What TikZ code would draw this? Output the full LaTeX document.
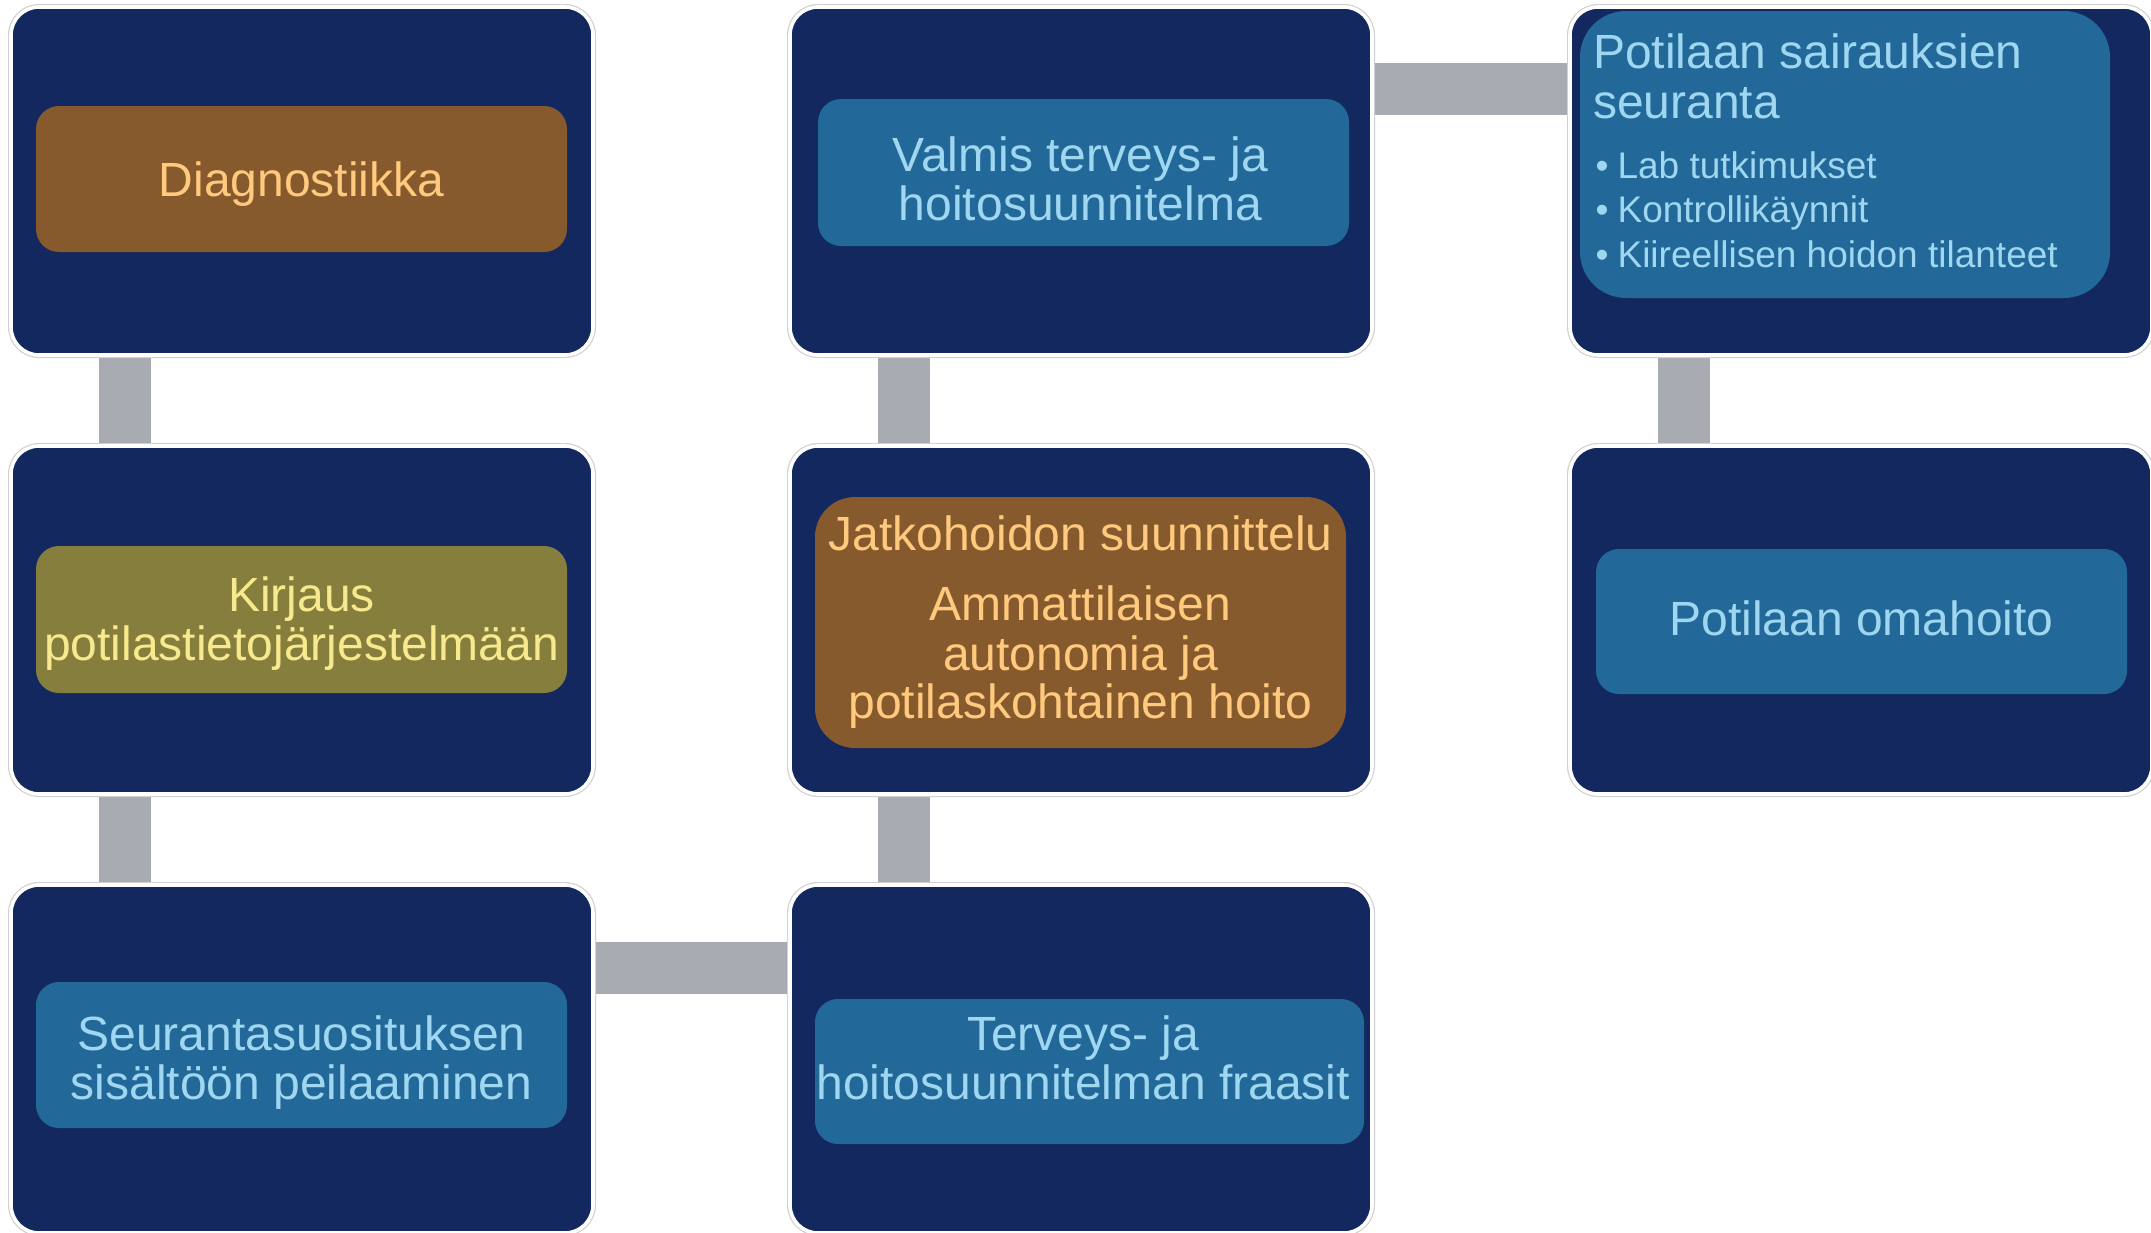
\documentclass[tikz,border=0pt]{standalone}
\usepackage{fontspec}
\setmainfont{Liberation Sans}
\usetikzlibrary{calc,backgrounds}
\definecolor{navy}{RGB}{18,40,94}
\definecolor{brownbox}{RGB}{135,90,45}
\definecolor{browntext}{RGB}{255,201,126}
\definecolor{bluebox}{RGB}{34,105,154}
\definecolor{bluetext}{RGB}{160,215,240}
\definecolor{olivebox}{RGB}{134,126,60}
\definecolor{olivetext}{RGB}{247,233,141}
\definecolor{conngray}{RGB}{169,171,179}
\begin{document}
\begin{tikzpicture}[x=1pt,y=-1pt,
  outer/.style={rectangle, rounded corners=14pt, fill=navy,
    preaction={draw=black!18, line width=3pt},
    draw=white, line width=1.8pt, minimum width=291pt, minimum height=174pt, inner sep=0pt},
  inner/.style={rectangle, inner sep=0pt},
  brownin/.style={inner, fill=brownbox},
  bluein/.style={inner, fill=bluebox},
  olivein/.style={inner, fill=olivebox},
  txt/.style={anchor=base, inner sep=0pt, font=\fontsize{24}{24}\selectfont},
  browntxt/.style={txt, text=browntext},
  bluetxt/.style={txt, text=bluetext},
  olivetxt/.style={txt, text=olivetext},
  bullettxt/.style={txt, anchor=base west, text=bluetext, font=\fontsize{18.5}{18.5}\selectfont},
  conn/.style={draw=conngray, line width=26pt}
]
\useasboundingbox (0,0) rectangle (1075.5,616);

% outer boxes
\node[outer] (o11) at (151,90.5) {};
\node[outer] (o12) at (540.5,90.5) {};
\node[outer] (o13) at (930.5,90.5) {};
\node[outer] (o21) at (151,310) {};
\node[outer] (o22) at (540.5,310) {};
\node[outer] (o23) at (930.5,310) {};
\node[outer] (o31) at (151,529.5) {};
\node[outer] (o32) at (540.5,529.5) {};

% inner boxes
\node[brownin, rounded corners=11.5pt, minimum width=265.5pt, minimum height=73pt] (diag) at (150.75,89.5) {};
\node[bluein, rounded corners=11.5pt, minimum width=265.5pt, minimum height=73.5pt] (valmis) at (541.75,86.25) {};
\node[bluein, rounded corners=23pt, minimum width=265pt, minimum height=143.5pt] (seur) at (922.5,77.25) {};
\node[olivein, rounded corners=11.5pt, minimum width=265.5pt, minimum height=73.5pt] (kirj) at (150.75,309.75) {};
\node[brownin, rounded corners=20pt, minimum width=265.5pt, minimum height=125.5pt] (jatko) at (540.25,311.25) {};
\node[bluein, rounded corners=11.5pt, minimum width=265.5pt, minimum height=72.5pt] (oma) at (930.75,310.75) {};
\node[bluein, rounded corners=11.5pt, minimum width=265.5pt, minimum height=73pt] (seuranta) at (150.75,527.5) {};
\node[bluein, rounded corners=11.5pt, minimum width=274.5pt, minimum height=72.5pt] (terv) at (544.75,535.75) {};

% texts
\node[browntxt] (diagT) at (150.75,98) {Diagnostiikka};
\node[bluetxt] (valmisA) at (540.2,85.5) {Valmis terveys- ja};
\node[bluetxt] (valmisB) at (540.2,110) {hoitosuunnitelma};
\node[bluetxt, anchor=base west] (seurA) at (796.3,34) {Potilaan sairauksien};
\node[bluetxt, anchor=base west] (seurB) at (796.3,59) {seuranta};
\node[bullettxt] (seurC) at (797.6,89) {\makebox[11pt][l]{•}Lab tutkimukset};
\node[bullettxt] (seurD) at (797.6,111.3) {\makebox[11pt][l]{•}Kontrollikäynnit};
\node[bullettxt] (seurE) at (797.6,133.8) {\makebox[11pt][l]{•}Kiireellisen hoidon tilanteet};
\node[olivetxt] (kirjA) at (150.75,305.5) {Kirjaus};
\node[olivetxt] (kirjB) at (150.75,330) {potilastietojärjestelmään};
\node[browntxt] (jatkoA) at (540.25,275) {Jatkohoidon suunnittelu};
\node[browntxt] (jatkoB) at (540.25,310) {Ammattilaisen};
\node[browntxt] (jatkoC) at (540.25,335) {autonomia ja};
\node[browntxt] (jatkoD) at (540.25,359.2) {potilaskohtainen hoito};
\node[bluetxt] (omaT) at (930.75,317.5) {Potilaan omahoito};
\node[bluetxt] (seurantaA) at (150.75,525) {Seurantasuosituksen};
\node[bluetxt] (seurantaB) at (150.75,549.5) {sisältöön peilaaminen};
\node[bluetxt] (tervA) at (541.6,525) {Terveys- ja};
\node[bluetxt] (tervB) at (541.6,549.5) {hoitosuunnitelman fraasit};

% connectors
\begin{scope}[on background layer]
\draw[conn] ($(o11.south west)+(57.75,0)$) -- ($(o21.north west)+(57.75,0)$);
\draw[conn] ($(o21.south west)+(57.75,0)$) -- ($(o31.north west)+(57.75,0)$);
\draw[conn] ($(o31.north east)+(0,42.5)$) -- ($(o32.north west)+(0,42.5)$);
\draw[conn] ($(o32.north west)+(58,0)$) -- ($(o22.south west)+(58,0)$);
\draw[conn] ($(o22.north west)+(58,0)$) -- ($(o12.south west)+(58,0)$);
\draw[conn] ($(o12.north east)+(0,41.75)$) -- ($(o13.north west)+(0,41.75)$);
\draw[conn] ($(o13.south west)+(58,0)$) -- ($(o23.north west)+(58,0)$);
\end{scope}
\end{tikzpicture}
\end{document}
